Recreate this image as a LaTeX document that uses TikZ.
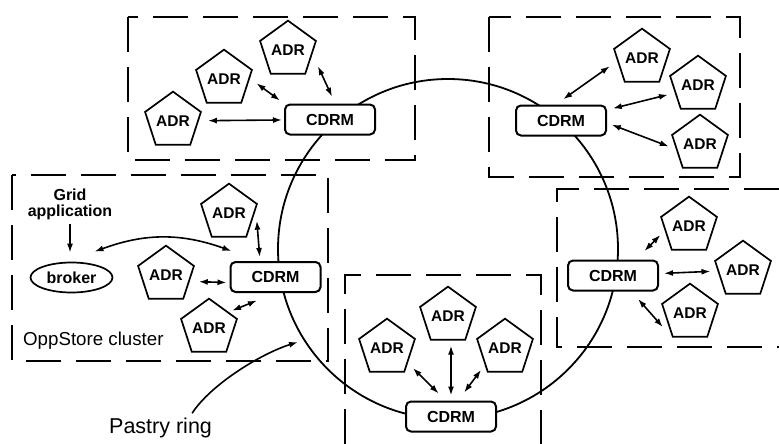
\documentclass[tikz,border=0pt]{standalone}
\usepackage{fontspec}
\setmainfont{Liberation Sans}
\usetikzlibrary{arrows.meta,shapes.geometric}
\begin{document}
\begin{tikzpicture}[x=1pt,y=-1pt,
  adr/.style={draw, regular polygon, regular polygon sides=5, minimum size=54pt,
    inner sep=0pt, line width=1.7pt, fill=white,
    font=\fontsize{15.5}{18}\selectfont\bfseries},
  cdrm/.style={draw, rounded corners=5pt, minimum width=90pt, minimum height=30pt,
    inner sep=0pt, line width=2pt, fill=white,
    font=\fontsize{16}{18}\selectfont\bfseries},
  cluster/.style={line width=2.2pt, dash pattern=on 35pt off 15pt},
  link/.style={{Latex[length=9pt,width=6pt]}-{Latex[length=9pt,width=6pt]}, line width=1.6pt},
  oneway/.style={-{Latex[length=9pt,width=6pt]}, line width=1.6pt},
  ring/.style={line width=1.8pt},
]
\useasboundingbox (0,0) rectangle (779,444);
\fill[white] (0,0) rectangle (779,444);

% cluster outlines
\draw[cluster] (128,17) rectangle (415,160);
\draw[cluster] (489,17) rectangle (740,177);
\draw[cluster] (12,175) rectangle (328,361);
\draw[cluster] (779,189) -- (557,189) -- (557,347) -- (779,347);
\draw[cluster] (345,444) -- (345,275) -- (541,275) -- (541,444);

% the Pastry ring
\coordinate (ringc) at (448,249);
\draw[ring] (ringc) circle[radius=170];

% top-left cluster
\node[cdrm] (cdrmA) at (330,119.5) {CDRM};
\node[adr] (adrA1) at (173,121) {ADR};
\node[adr] (adrA2) at (224,79) {ADR};
\node[adr] (adrA3) at (288,50) {ADR};
\draw[link, shorten <=9pt, shorten >=2pt] (adrA1) -- (cdrmA);
\draw[link, shorten <=8pt, shorten >=5pt] (adrA2.1) -- (cdrmA.north west);
\draw[link, shorten <=13pt, shorten >=7.5pt] (adrA3.-10) -- (cdrmA.72);

% top-right cluster
\node[cdrm] (cdrmB) at (561,120.5) {CDRM};
\node[adr] (adrB1) at (642,58) {ADR};
\node[adr] (adrB2) at (698,85) {ADR};
\node[adr] (adrB3) at (700,144) {ADR};
\draw[link, shorten <=9pt, shorten >=9pt] (adrB1.187) -- (cdrmB.108);
\draw[link, shorten <=7pt, shorten >=6pt] (adrB2.199) -- (cdrmB.13);
\draw[link, shorten <=7.5pt, shorten >=5pt] (adrB3.192) -- (cdrmB.-3);

% right cluster
\node[cdrm] (cdrmC) at (613,275.5) {CDRM};
\node[adr] (adrC1) at (689,226) {ADR};
\node[adr] (adrC2) at (743,270) {ADR};
\node[adr] (adrC3) at (690,313) {ADR};
\draw[link, shorten <=6pt, shorten >=12pt] (adrC1.191) -- (cdrmC.35);
\draw[link, shorten <=7pt, shorten >=5pt] (adrC2) -- (cdrmC);
\draw[link, shorten <=14pt, shorten >=10pt] (adrC3.234) -- (cdrmC.-41);

% bottom cluster
\node[cdrm] (cdrmD) at (451,416.5) {CDRM};
\node[adr] (adrD1) at (387,348) {ADR};
\node[adr] (adrD2) at (448,316) {ADR};
\node[adr] (adrD3) at (505,348) {ADR};
\draw[link, shorten <=7pt, shorten >=10pt] (adrD1.-36) -- (cdrmD.108);
\draw[link, shorten <=5pt, shorten >=5pt] (cdrmD.north |- adrD2.south) -- (cdrmD.north);
\draw[link, shorten <=6pt, shorten >=10pt] (adrD3.220) -- (cdrmD.66);

% left cluster
\node[cdrm] (cdrmE) at (275.5,277) {CDRM};
\node[adr] (adrE1) at (229,213) {ADR};
\node[adr] (adrE2) at (166,275) {ADR};
\node[adr] (adrE3) at (209,328) {ADR};
\draw[link, shorten <=11pt, shorten >=4pt] (adrE1.7) -- (cdrmE.134);
\draw[link, shorten <=9pt, shorten >=3pt] (adrE2.-15) -- (cdrmE.187);
\draw[link, shorten <=3.5pt, shorten >=20pt] (adrE3.39) -- (cdrmE.south);

\node[draw, ellipse, minimum width=82pt, minimum height=30pt, inner sep=0pt,
  line width=1.7pt, font=\fontsize{16}{18}\selectfont\bfseries] (broker) at (71.5,277.5) {broker};
\node[align=center, inner sep=0pt, anchor=north,
  font=\fontsize{16}{16}\selectfont\bfseries] (grid) at (70,189) {Grid\\application};
\draw[oneway, shorten <=4pt, shorten >=9pt] (grid.south) -- (grid.south |- broker.north);
\draw[link] ([xshift=23pt,yshift=10pt]broker.north) to[bend left=20]
  ([xshift=2pt,yshift=10pt]cdrmE.north west);

\node[anchor=base west, inner sep=0pt, font=\fontsize{18.7}{20}\selectfont] (opp) at (23,345) {OppStore cluster};

% label for the ring
\node[anchor=base west, inner sep=0pt, font=\fontsize{21.5}{24}\selectfont] (pastry) at (109,433) {Pastry ring};
\coordinate (pastrytip) at (298,342);
\draw[oneway] ([xshift=-20pt,yshift=4pt]pastry.north east) .. controls +(18,-28) and +(-38,12) .. (pastrytip);
\end{tikzpicture}
\end{document}
